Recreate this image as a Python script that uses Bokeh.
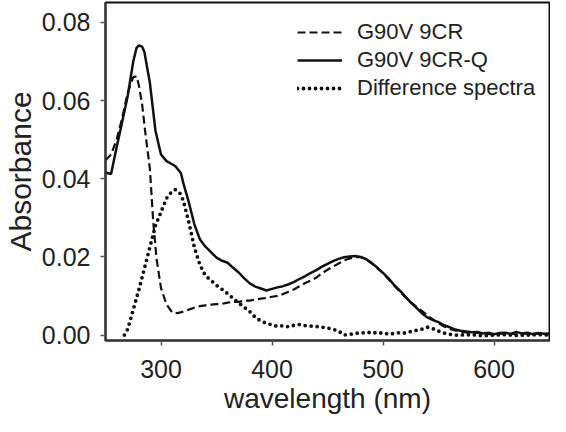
from bokeh.plotting import figure
from bokeh.models import FixedTicker, NumeralTickFormatter, Range1d, Legend, LegendItem
from bokeh.embed import file_html
from bokeh.resources import INLINE

# G90V 9CR-Q (solid)
wl_q = [250, 255, 260, 265, 270, 275, 278, 280, 283, 285, 290, 295, 300, 305, 310, 313, 318,
        320, 325, 330, 335, 340, 345, 350, 355, 360, 365, 370, 375, 380, 385, 390, 395, 400,
        405, 410, 415, 420, 425, 430, 435, 440, 445, 450, 455, 460, 465, 470, 475, 480, 485,
        490, 495, 500, 505, 510, 515, 520, 525, 530, 535, 540, 545, 550, 555, 560, 565, 570,
        575, 580, 585, 590, 595, 600, 605, 610, 615, 620, 625, 630, 635, 640, 645, 650]
abs_q = [0.0416, 0.0412, 0.0480, 0.0545, 0.0612, 0.0700, 0.0735, 0.0741, 0.0738, 0.0725,
         0.0645, 0.0523, 0.0462, 0.0445, 0.0437, 0.0432, 0.0414, 0.0390, 0.0340, 0.0284,
         0.0245, 0.0226, 0.0212, 0.0198, 0.0190, 0.0185, 0.0172, 0.0160, 0.0145, 0.0132,
         0.0124, 0.0119, 0.0114, 0.0118, 0.0122, 0.0125, 0.0130, 0.0136, 0.0144, 0.0151,
         0.0159, 0.0166, 0.0175, 0.0182, 0.0189, 0.0195, 0.0199, 0.0201, 0.0202, 0.0200,
         0.0194, 0.0184, 0.0172, 0.0159, 0.0145, 0.0128, 0.0114, 0.0099, 0.0083, 0.0070,
         0.0056, 0.0045, 0.0038, 0.0033, 0.0025, 0.0020, 0.0014, 0.0011, 0.0009, 0.0007,
         0.0008, 0.0004, 0.0006, 0.0002, 0.0005, 0.0006, 0.0003, 0.0008, 0.0004, 0.0006,
         0.0002, 0.0005, 0.0003, 0.0004]

# G90V 9CR (dashed)
wl_c = [250, 255, 260, 265, 270, 275, 278, 280, 283, 286, 290, 293, 296, 300, 305, 310, 315,
        320, 325, 330, 335, 340, 345, 350, 355, 360, 365, 370, 375, 380, 385, 390, 395, 400,
        405, 410, 415, 420, 425, 430, 435, 440, 445, 450, 455, 460, 465, 470, 475, 480, 485,
        490, 495, 500, 505, 510, 515, 520, 525, 530, 535, 540, 545, 550, 555, 560, 565, 570,
        575, 580, 585, 590, 600, 610, 620, 630, 640, 650]
abs_c = [0.0447, 0.0462, 0.0500, 0.0555, 0.0620, 0.0660, 0.0662, 0.0640, 0.0590, 0.0515,
         0.0425, 0.0290, 0.0195, 0.0120, 0.0078, 0.0058, 0.0056, 0.0060, 0.0065, 0.0070,
         0.0074, 0.0076, 0.0078, 0.0079, 0.0080, 0.0083, 0.0085, 0.0085, 0.0088, 0.0088,
         0.0091, 0.0093, 0.0095, 0.0098, 0.0100, 0.0105, 0.0111, 0.0117, 0.0125, 0.0133,
         0.0140, 0.0147, 0.0158, 0.0167, 0.0175, 0.0183, 0.0191, 0.0196, 0.0199, 0.0199,
         0.0193, 0.0183, 0.0171, 0.0158, 0.0143, 0.0127, 0.0112, 0.0097, 0.0084, 0.0073,
         0.0062, 0.0050, 0.0040, 0.0030, 0.0022, 0.0016, 0.0012, 0.0008, 0.0007, 0.0005,
         0.0006, 0.0003, 0.0002, 0.0004, 0.0002, 0.0004, 0.0003, 0.0002]

# Difference spectra (dotted)
wl_d = [267, 270, 275, 280, 285, 290, 295, 300, 305, 310, 313, 317, 320, 325, 330, 335, 340,
        345, 350, 355, 360, 365, 370, 375, 380, 385, 390, 395, 400, 405, 410, 415, 420, 425,
        430, 435, 440, 445, 450, 455, 460, 465, 470, 475, 480, 485, 490, 495, 500, 505, 510,
        515, 520, 525, 530, 535, 540, 545, 550, 555, 560, 565, 570, 580, 590, 600, 610, 620,
        630, 640, 650]
abs_d = [0.0000, 0.0015, 0.0065, 0.0115, 0.0170, 0.0225, 0.0280, 0.0315, 0.0350, 0.0368,
         0.0372, 0.0363, 0.0345, 0.0290, 0.0225, 0.0180, 0.0152, 0.0140, 0.0127, 0.0117,
         0.0106, 0.0094, 0.0082, 0.0071, 0.0060, 0.0045, 0.0036, 0.0030, 0.0026, 0.0022,
         0.0024, 0.0021, 0.0025, 0.0027, 0.0024, 0.0023, 0.0022, 0.0020, 0.0018, 0.0015,
         0.0010, 0.0000, 0.0002, 0.0004, 0.0006, 0.0005, 0.0008, 0.0004, 0.0006, 0.0002,
         0.0004, 0.0006, 0.0005, 0.0009, 0.0012, 0.0015, 0.0020, 0.0016, 0.0010, 0.0005,
         0.0002, 0.0000, 0.0000, 0.0001, -0.0002, 0.0000, 0.0001, -0.0001, 0.0000, 0.0001,
         0.0000]

x_ticks = [300, 400, 500, 600]
y_ticks = [0.00, 0.02, 0.04, 0.06, 0.08]
series_names = ["G90V 9CR", "G90V 9CR-Q", "Difference spectra"]

FONT = "Liberation Sans"

p = figure(width=550, height=416, output_backend="svg", toolbar_location=None,
           x_range=Range1d(250, 650), y_range=Range1d(-0.0014, 0.0851),
           min_border_left=95, min_border_right=1, min_border_top=2, min_border_bottom=76)

p.xgrid.visible = False
p.ygrid.visible = False
p.outline_line_color = "#111111"
p.outline_line_width = 2
p.background_fill_color = "white"
p.border_fill_color = "white"

r_c = p.line(wl_c, abs_c, line_color="#111111", line_width=2.2, line_dash="8 4")
r_q = p.line(wl_q, abs_q, line_color="#111111", line_width=2.5)
r_d = p.line(wl_d, abs_d, line_color="#111111", line_width=3.8, line_dash="0 6",
             line_cap="round")

for ax in (p.xaxis[0], p.yaxis[0]):
    ax.axis_line_color = "#333333"
    ax.axis_line_width = 2
    ax.major_tick_line_color = "#555555"
    ax.major_tick_line_width = 1.5
    ax.major_tick_out = 5
    ax.major_tick_in = 0
    ax.minor_tick_line_color = None
    ax.major_label_text_font = FONT
    ax.major_label_text_font_size = "25px"
    ax.major_label_text_color = "#222222"
    ax.axis_label_text_font = FONT
    ax.axis_label_text_font_style = "normal"
    ax.axis_label_text_color = "#222222"

p.xaxis.ticker = FixedTicker(ticks=x_ticks)
p.yaxis.ticker = FixedTicker(ticks=y_ticks)
p.yaxis.formatter = NumeralTickFormatter(format="0.00")
p.xaxis.axis_label = "wavelength (nm)"
p.yaxis.axis_label = "Absorbance"
p.xaxis.axis_label_text_font_size = "28px"
p.yaxis.axis_label_text_font_size = "30px"
p.xaxis.major_label_standoff = 14
p.yaxis.major_label_standoff = 10
p.xaxis.axis_label_standoff = 2
p.yaxis.axis_label_standoff = 2

legend = Legend(items=[LegendItem(label=series_names[0], renderers=[r_c]),
                       LegendItem(label=series_names[1], renderers=[r_q]),
                       LegendItem(label=series_names[2], renderers=[r_d])],
                location=(192, 238), padding=0, margin=0, spacing=0,
                glyph_width=45, glyph_height=28, label_height=28, label_standoff=15,
                label_text_font=FONT, label_text_font_size="22px",
                label_text_color="#222222",
                border_line_color=None, background_fill_alpha=0)
p.add_layout(legend, "center")

open("out.html", "w").write(file_html(p, INLINE))
